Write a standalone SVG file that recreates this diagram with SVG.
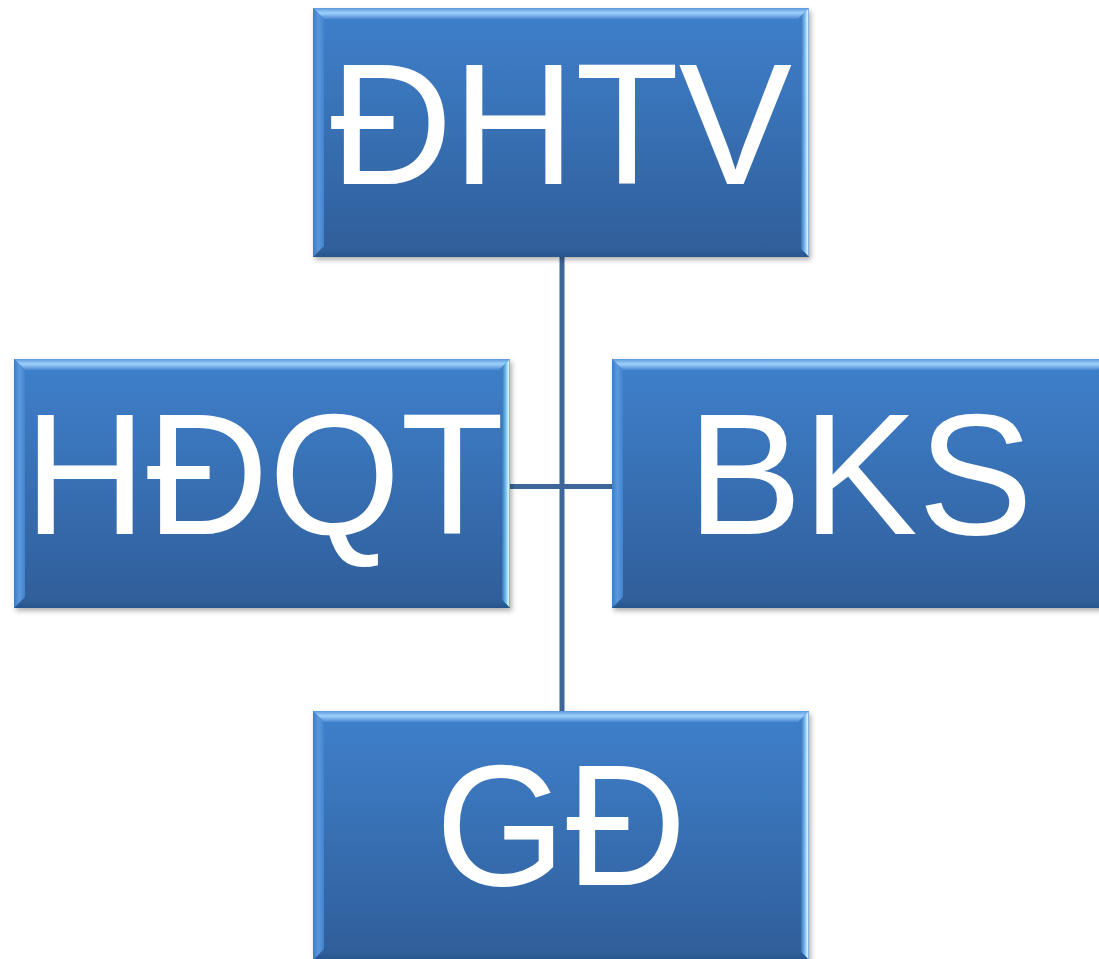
<svg xmlns="http://www.w3.org/2000/svg" xmlns:xlink="http://www.w3.org/1999/xlink" width="1099" height="959" viewBox="0 0 1099 959">
  <defs>
    <linearGradient id="body" x1="0" y1="0" x2="0" y2="1">
      <stop offset="0" stop-color="#3f80cc"/>
      <stop offset="1" stop-color="#2f5e99"/>
    </linearGradient>
    <linearGradient id="topBevel" x1="0" y1="0" x2="0" y2="1">
      <stop offset="0" stop-color="#5a98dc"/>
      <stop offset="0.45" stop-color="#9fd2fb"/>
      <stop offset="1" stop-color="#4a88d2"/>
    </linearGradient>
    <linearGradient id="leftBevel" x1="0" y1="0" x2="1" y2="0">
      <stop offset="0" stop-color="#3f7cc4"/>
      <stop offset="0.5" stop-color="#5a98de"/>
      <stop offset="1" stop-color="#4283cc"/>
    </linearGradient>
    <linearGradient id="rightBevel" x1="0" y1="0" x2="1" y2="0">
      <stop offset="0" stop-color="#3a74b8"/>
      <stop offset="0.5" stop-color="#7dbcf0"/>
      <stop offset="0.8" stop-color="#d8f2ff"/>
      <stop offset="1" stop-color="#5f9ad6"/>
    </linearGradient>
    <linearGradient id="bottomBevel" x1="0" y1="0" x2="0" y2="1">
      <stop offset="0" stop-color="#305f9a"/>
      <stop offset="1" stop-color="#28558c"/>
    </linearGradient>
    <filter id="shadow" x="-5%" y="-5%" width="112%" height="115%">
      <feDropShadow dx="2" dy="3" stdDeviation="2.5" flood-color="#000" flood-opacity="0.3"/>
    </filter>
    <!-- bevelled box, 496 x 249 -->
    <g id="box">
      <rect x="0" y="0" width="496" height="249" fill="url(#body)"/>
      <path d="M0,0 H496 L485,11 H11 Z" fill="url(#topBevel)"/>
      <path d="M0,0 L11,11 V238 L0,249 Z" fill="url(#leftBevel)"/>
      <path d="M496,0 V249 L488,241 V8 Z" fill="url(#rightBevel)"/>
      <path d="M0,249 H496 L488,241 H11 Z" fill="url(#bottomBevel)"/>
    </g>
    <style>
      .label { font-family: "Liberation Sans", Arial, sans-serif; font-size: 173px; fill: #ffffff; text-anchor: middle; }
      .link { stroke: #3d6699; stroke-width: 5; fill: none; }
      .node use { filter: url(#shadow); }
    </style>
  </defs>

  <rect width="1099" height="959" fill="#ffffff"/>

  <g id="connectors">
    <line class="link" x1="562" y1="257" x2="562" y2="711"/>
    <line class="link" x1="510" y1="486.5" x2="612" y2="486.5"/>
  </g>

  <g id="node-dhtv" class="node">
    <use xlink:href="#box" x="313" y="8"/>
    <text class="label" x="561" y="184" textLength="462" lengthAdjust="spacingAndGlyphs">ĐHTV</text>
  </g>

  <g id="node-hdqt" class="node">
    <use xlink:href="#box" x="14" y="359"/>
    <text class="label" x="264" y="534" textLength="480" lengthAdjust="spacingAndGlyphs">HĐQT</text>
  </g>

  <g id="node-bks" class="node">
    <use xlink:href="#box" x="612" y="359"/>
    <text class="label" x="860" y="534">BKS</text>
  </g>

  <g id="node-gd" class="node">
    <use xlink:href="#box" x="313" y="711"/>
    <text class="label" x="561" y="885" textLength="251" lengthAdjust="spacingAndGlyphs">GĐ</text>
  </g>
</svg>
